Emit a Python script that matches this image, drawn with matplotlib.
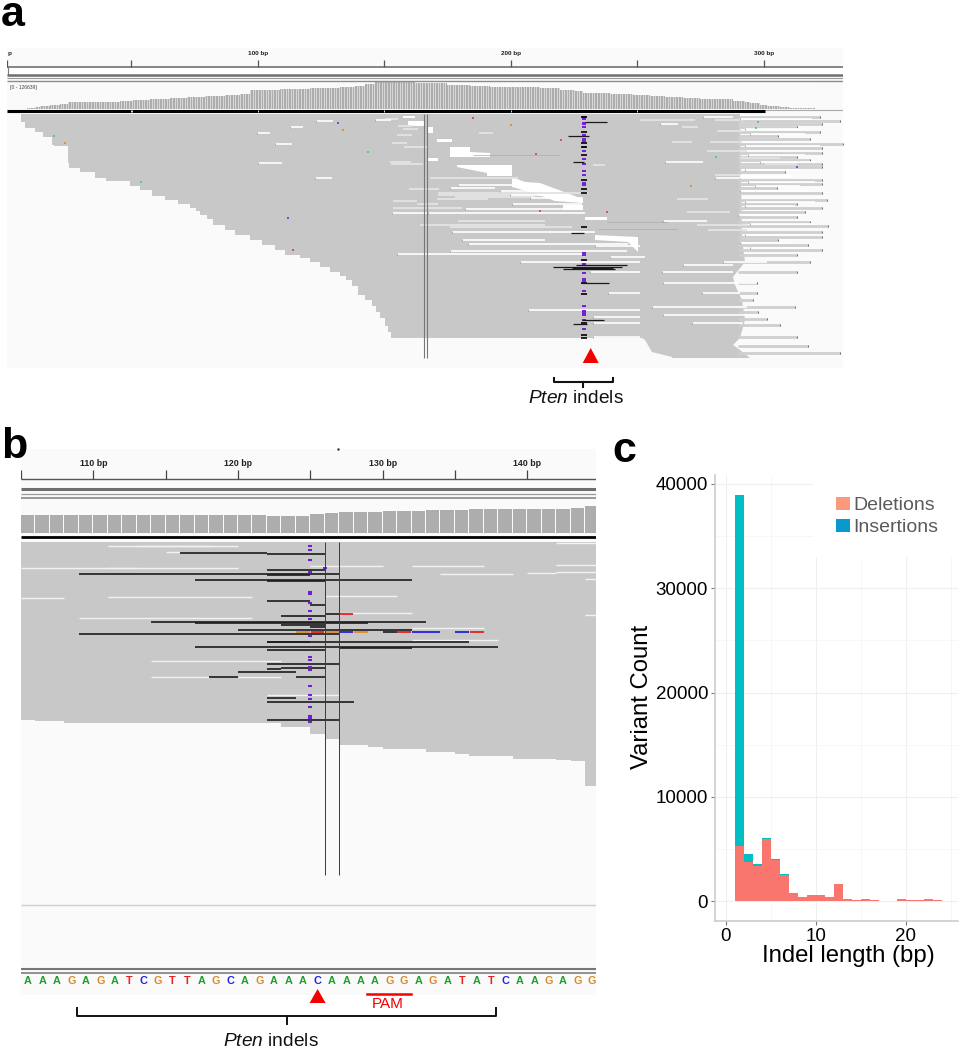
import numpy as np
import matplotlib
matplotlib.use("Agg")
import matplotlib.pyplot as plt
from matplotlib.patches import Patch, Polygon, Rectangle

plt.rcParams['font.family'] = ['Liberation Sans', 'DejaVu Sans']
plt.rcParams['mathtext.fontset'] = 'custom'
plt.rcParams['mathtext.rm'] = 'Liberation Sans'
plt.rcParams['mathtext.it'] = 'Liberation Sans:italic'

W, H = 973, 1050
READ = '#c8c8c8'; PANEL = '#fafafa'; COV = '#adadad'; LINE = '#7c7c7c'
PURPLE = '#6f1fd6'
BASE_COL = {'A': '#1f9e2d', 'C': '#2222e0', 'G': '#d98a2e', 'T': '#e32222'}

# ---------- panel a data (read columns along the track, rows down the track) ----------
a_ruler_cols = [131, 258, 384, 511, 637, 764]
a_ruler_labels = {258: '100 bp', 511: '200 bp', 764: '300 bp'}
a_cov_cols = [27, 35, 40, 50, 60, 68, 100, 120, 133, 150, 170, 187, 205, 225, 240, 250, 280, 310, 340, 355,
              365, 375, 415, 447, 470, 490, 517, 540, 560, 575, 583, 610, 633, 650, 665, 683, 700, 733,
              745, 750, 760, 767, 780, 790, 805, 815]
a_cov_heights = [1, 2, 3, 4, 5, 7, 7.5, 8, 9, 10, 11, 12, 13, 14, 15, 19, 20, 21, 22, 23,
                 25, 27, 26, 24, 23, 22.5, 22, 21, 19, 18, 16, 15, 14, 13, 12, 11, 10, 8,
                 7, 5.7, 4, 3, 2, 1.5, 1]
a_left_y = [114, 122, 128, 132, 137, 145, 146, 163, 168, 172, 178, 181, 186, 190, 196, 200, 204, 208, 211, 215, 219,
            225, 230, 235, 240, 245, 250, 255, 258, 262, 267, 272, 276, 280, 286, 295, 300, 306, 312, 318, 326, 332, 338]
a_left_x = [21, 25, 35, 43, 52, 54, 68, 69, 80, 95, 106, 130, 140, 152, 165, 178, 190, 196, 200, 207, 213,
            225, 235, 250, 262, 275, 285, 300, 310, 320, 330, 340, 346, 352, 358, 365, 372, 376, 380, 385, 388, 391, 393]
a_block = [(393, 114), (740, 114), (742, 240), (745, 262), (733, 277), (735, 285), (742, 300), (745, 320), (740, 338),
           (733, 345), (740, 350), (750, 358), (672, 358), (672, 357), (652, 352), (645, 340), (642, 338), (393, 338)]
a_white_blocks = [
    [(403, 116), (415, 116), (415, 118), (403, 118)],
    [(408, 121), (425, 121), (425, 126), (408, 126)],
    [(427, 127), (433, 127), (433, 133), (427, 133)],
    [(437, 139), (452, 139), (452, 142), (437, 142)],
    [(450, 147), (470, 147), (470, 157), (450, 157)],
    [(470, 152), (490, 153), (490, 157), (470, 157)],
    [(428, 158), (438, 158), (438, 161), (428, 161)],
    [(457, 165), (512, 165), (512, 176), (487, 176), (487, 173), (472, 170), (457, 167)],
    [(512, 177), (525, 182), (540, 183), (583, 199), (583, 203), (555, 201), (530, 192), (512, 187)],
    [(563, 205), (583, 205), (583, 210), (563, 210)],
    [(585, 217), (607, 217), (607, 220), (585, 220)],
    [(595, 235), (638, 237), (638, 252), (628, 242), (595, 240)],
    [(740, 175), (793, 175), (793, 178), (740, 178)],
]
a_row_y = [117, 121, 124, 127, 132, 136, 139, 144, 148, 153, 157, 160, 164, 167, 172, 180, 184, 188, 193, 200,
           204, 208, 212, 217, 222, 226, 232, 237, 240, 245, 250, 255, 262, 272, 283, 293, 300, 307, 312, 319,
           325, 337, 346, 353]
a_row_end = [820, 840, 822, 797, 820, 778, 810, 843, 822, 822, 797, 810, 822, 822, 785, 822, 822, 777, 822, 827,
             797, 822, 805, 797, 810, 828, 822, 822, 778, 808, 822, 797, 810, 797, 757, 757, 753, 795, 758, 767,
             780, 797, 808, 840]
a_gaps = [(316, 333, 121), (375, 391, 120), (290, 303, 127), (257, 270, 133), (275, 292, 144), (258, 282, 163),
          (315, 332, 178),
          (392, 428, 213), (428, 585, 213), (465, 582, 209), (512, 582, 204), (458, 518, 185), (450, 495, 188),
          (500, 560, 191), (510, 570, 195), (530, 583, 198),
          (452, 595, 232), (462, 545, 240), (468, 628, 244), (450, 627, 251), (397, 585, 254), (520, 640, 262),
          (595, 640, 246), (610, 645, 257),
          (590, 640, 272), (608, 640, 293), (528, 640, 310), (593, 640, 317), (593, 640, 323), (593, 640, 337),
          (662, 733, 272), (663, 757, 283), (702, 740, 293), (652, 747, 307), (663, 758, 315), (692, 743, 323),
          (683, 733, 265), (723, 767, 262), (660, 678, 124), (665, 703, 162), (715, 740, 178), (663, 707, 221),
          (703, 733, 117), (740, 812, 119), (745, 800, 129), (750, 805, 134), (745, 820, 146), (748, 805, 155),
          (760, 815, 162), (745, 800, 170), (748, 815, 182), (755, 800, 186), (740, 810, 191), (745, 815, 202),
          (745, 795, 206), (738, 800, 215), (750, 812, 224), (745, 800, 235), (740, 790, 243), (750, 805, 248)]
a_pale = [(385, 398, 119), (398, 412, 126), (403, 418, 129), (397, 412, 135), (392, 407, 143), (404, 428, 147),
          (390, 411, 162), (391, 423, 164), (409, 439, 189), (417, 438, 204), (438, 588, 193), (438, 532, 195),
          (455, 535, 197), (437, 488, 199), (393, 417, 201), (393, 462, 208), (430, 518, 178), (458, 545, 221),
          (420, 545, 225), (450, 572, 227), (479, 493, 133), (593, 605, 165), (682, 698, 127), (717, 742, 131),
          (672, 692, 142), (710, 742, 142), (707, 747, 151), (715, 740, 175), (677, 708, 199), (687, 730, 212),
          (697, 747, 225), (708, 747, 230), (640, 695, 120), (715, 743, 120), (740, 780, 158), (765, 797, 164)]
a_spots = [(338, 123, '#3a3ae0'), (343, 130, '#d9822b'), (54, 136, '#3ad04a'), (65, 143, '#d9822b'), (368, 152, '#3ad04a'),
           (141, 182, '#3ad04a'), (288, 218, '#3a3ae0'), (293, 250, '#e03030'), (473, 118, '#e03030'), (511, 125, '#d9822b'),
           (561, 140, '#e03030'), (536, 154, '#e03030'), (716, 157, '#3ad04a'), (691, 186, '#d9822b'), (540, 211, '#e03030'),
           (607, 212, '#e03030'), (758, 122, '#3ad04a'), (756, 128, '#3ad04a'), (797, 167, '#3a3ae0')]
a_purple_y = [117, 119, 123, 124, 127, 135, 139, 141, 147, 151, 159, 164, 171, 175, 183, 185,
              253, 255, 264, 273, 279, 281, 291, 306, 311, 313, 315, 320, 329]
a_black_y = [117, 132, 143, 147, 155, 180, 189, 193, 227, 260, 283, 294, 323, 335, 338]
a_black_long = [(585, 607, 122), (568, 589, 136), (573, 584, 162), (571, 584, 233), (576, 627, 265), (553, 622, 267),
                (572, 613, 268), (563, 615, 269), (582, 609, 283), (582, 604, 320), (573, 587, 324)]
a_thin_reads = [(473, 560, 155), (607, 667, 222), (598, 677, 229)]
a_double_cols = [424.3, 426.8]

# ---------- panel b data (bp) ----------
b_ruler_bp = [105, 110, 115, 120, 125, 130, 135, 140]
b_label_bp = [110, 120, 130, 140]
b_sequence = "AAAGAGATCGTTAGCAGAAACAAAAGGAGATATCAAGAGG"
b_cov_heights = [17.7] * 17 + [16.7] * 3 + [18.7, 19.7] + [21] * 3 + [22.3] * 3 + [23.3] * 3 + [24] * 7 + [24.7, 27.3]
b_bottom_bp = [105, 106, 108, 123, 125, 126, 127, 129, 130, 133, 135, 136, 139, 142, 143, 144, 144.75]
b_bottom_y = [720, 721, 723, 727, 734, 739, 745, 747, 749, 752, 754, 756, 759, 760, 761, 786, 786]
b_black = [(116, 122, 553), (122, 126, 553.5), (122, 126, 570), (109, 127, 574), (122, 125, 575), (117, 132, 580), (122, 126, 581),
           (122, 125, 601), (125, 126, 605), (123, 126, 615.5), (126, 127, 614), (114, 133, 621.5), (117, 129, 622.5),
           (123, 126, 625), (125, 126, 627), (120, 132, 630), (109, 127, 634), (130, 131, 632), (122, 125, 641.5),
           (122, 136, 642), (117, 138, 647), (127, 132, 648), (122, 126, 650), (122, 127, 664), (123, 126, 668),
           (122, 123, 669), (120, 124, 672), (118, 120, 677), (124, 126, 677), (122, 124, 698), (122, 128, 702), (122, 127, 720)]
b_white = [(111, 120, 546), (113, 118, 546), (115, 116, 552), (105, 120, 567.5), (111, 113, 567.5), (125, 130, 566), (132, 137, 566),
           (134, 139, 574), (140, 142, 573), (142, 145, 565), (142, 145, 572), (144, 145, 579), (105, 108, 598), (111, 121, 597),
           (126, 131, 596), (109, 121, 618), (127, 132, 613), (144, 145, 615), (132, 137, 628), (132, 138, 640), (114, 123, 661),
           (114, 118, 677), (120, 123, 677), (122, 127, 695), (142, 145, 542.5)]
b_mismatch = [(124, 125, 632, 'G'), (125, 126, 632, 'T'), (126, 127, 632, 'G'), (127, 128, 632, 'C'), (128, 129, 632, 'G'),
              (131, 132, 632, 'T'), (132, 133, 632, 'C'), (133, 134, 632, 'C'), (135, 136, 632, 'C'), (136, 137, 632, 'T'),
              (127, 128, 614, 'T')]
b_purple_y = [546, 550, 560, 572, 592, 594, 603, 611, 619, 636, 657, 660, 667, 670, 686, 695, 699, 707, 716, 718, 722]
b_double_bp = [126, 127]

# ---------- panel c data ----------
c_bin_start = list(range(1, 26))
c_deletions = [5300, 3780, 3380, 5900, 3980, 2450, 730, 360, 530, 600, 430, 1660, 200, 60, 200, 100, 30, 10, 230, 100, 100, 200, 60, 20, 20]
c_insertions = [33640, 760, 130, 160, 60, 100, 0, 0, 70, 0, 0, 0, 0, 40, 0, 0, 0, 30, 0, 0, 0, 0, 40, 10, 0]
c_yticks = [0, 10000, 20000, 30000, 40000]
c_xticks = [0, 10, 20]

fig = plt.figure(figsize=(W / 100, H / 100), dpi=100, facecolor='white')


def axes_px(x0, y0, x1, y1):
    return fig.add_axes([x0 / W, 1 - y1 / H, (x1 - x0) / W, (y1 - y0) / H])


def bare(ax):
    for s in ax.spines.values():
        s.set_visible(False)
    ax.set_xticks([]); ax.set_yticks([])
    ax.set_facecolor(PANEL)


# ================= panel a =================
def bp_a(col):
    return 100 + (np.asarray(col, dtype=float) - 258) / 2.53


axa = axes_px(7, 48, 843, 368)
bare(axa)
axa.set_xlim(bp_a(7), bp_a(843))
axa.set_ylim(368, 48)
axa.hlines(66.7, bp_a(7), bp_a(843), color=LINE, lw=1.3)
axa.vlines(bp_a(a_ruler_cols), 60, 66.7, color='#555555', lw=0.9)
axa.vlines(bp_a(7), 60, 66.7, color='#555555', lw=0.9)
for c, t in a_ruler_labels.items():
    axa.text(bp_a(c), 54, t, ha='center', va='center', fontsize=4.6, fontweight='bold', color='#222222')
axa.text(bp_a(8), 54, 'p', ha='left', va='center', fontsize=4.6, fontweight='bold', color='#222222')
axa.add_patch(Rectangle((bp_a(7), 67), bp_a(843) - bp_a(7), 8, fc='white', ec='none'))
axa.vlines(bp_a(7.6), 67, 75, color=LINE, lw=0.8)
axa.hlines(75, bp_a(7), bp_a(843), color='#6e6e6e', lw=1.8)
axa.hlines(78, bp_a(7), bp_a(843), color='#999999', lw=0.8)
axa.hlines(81, bp_a(7), bp_a(843), color='#8c8c8c', lw=1.0)
axa.text(bp_a(10), 87, '[0 - 126639]', ha='left', va='center', fontsize=3.6, color='#444444')
edges = bp_a(a_cov_cols)
axa.stairs(109 - np.array(a_cov_heights), edges, baseline=109, fill=True, color=COV, lw=0)
axa.vlines(np.arange(np.ceil(edges[0]), edges[-1]), 82, 109, color=PANEL, lw=0.5, alpha=0.8)
axa.hlines(110, bp_a(765), bp_a(843), color='#aaaaaa', lw=0.8)
axa.hlines(111, bp_a(7), bp_a(765), color='black', lw=2.2)
axa.vlines(bp_a(a_ruler_cols[:5] + [132]), 109.8, 112.2, color='#dddddd', lw=0.7)
# rows of reads that run out beyond the solid block
axa.hlines(a_row_y, bp_a(738), bp_a(a_row_end), color='#cfcfcf', lw=2.0)
axa.plot(bp_a(a_row_end), a_row_y, ls='none', marker='|', ms=2, mew=0.6, color='#555555')
axa.add_patch(Polygon(np.c_[bp_a([p[0] for p in a_block]), [p[1] for p in a_block]], fc=READ, ec='none'))
axa.fill_betweenx(a_left_y, bp_a(a_left_x), bp_a(400), step='post', color=READ, lw=0)
for poly in a_white_blocks:
    axa.add_patch(Polygon(np.c_[bp_a([p[0] for p in poly]), [p[1] for p in poly]], fc='white', ec='none'))
for x1, x2, y in a_pale:
    axa.hlines(y, bp_a(x1), bp_a(x2), color='#e3e3e3', lw=1.3)
for x1, x2, y in a_gaps:
    axa.hlines(y, bp_a(x1), bp_a(x2), color='white', lw=1.25, alpha=0.95)
    axa.plot(bp_a(x1), y, ls='none', marker='|', ms=1.6, mew=0.4, color='#777777')
for x1, x2, y in a_thin_reads:
    axa.hlines(y, bp_a(x1), bp_a(x2), color='#aaaaaa', lw=0.5)
axa.vlines(bp_a(a_double_cols), 114, 358, color='#777777', lw=0.8)
for x, y, c in a_spots:
    axa.hlines(y, bp_a(x - 1.3), bp_a(x + 1.3), color=c, lw=1.1)
axa.hlines(a_purple_y, bp_a(582), bp_a(586), color=PURPLE, lw=1.4)
axa.hlines(a_black_y, bp_a(581), bp_a(587), color='black', lw=1.2)
for x1, x2, y in a_black_long:
    axa.hlines(y, bp_a(x1), bp_a(x2), color='#1a1a1a', lw=0.9)

# ================= panel b =================
axb = axes_px(21, 449, 596, 995)
bare(axb)
axb.set_xlim(105, 144.75)
axb.set_ylim(995, 449)
axb.hlines(479, 105, 144.75, color='#555555', lw=1.0)
axb.vlines(b_ruler_bp, 470, 479, color='#444444', lw=0.9)
for b in b_label_bp:
    axb.text(b, 463, f'{b} bp', ha='center', va='center', fontsize=6.4, fontweight='bold', color='#222222')
axb.hlines(489, 105, 144.75, color='#6e6e6e', lw=2.2)
axb.hlines(494, 105, 144.75, color='#999999', lw=0.9)
axb.hlines(498, 105, 144.75, color='#888888', lw=1.2)
axb.bar(np.arange(105, 145), -np.array(b_cov_heights), bottom=533, width=0.93, align='edge', color=COV, lw=0)
axb.hlines(536.5, 105, 144.75, color='black', lw=2.0)
axb.fill_between(b_bottom_bp, 542, b_bottom_y, step='post', color=READ, lw=0)
axb.hlines(905, 105, 144.75, color='#cfcfcf', lw=1.0)
for x1, x2, y in b_white:
    axb.hlines(y, x1, x2, color='#f2f2f2', lw=1.0)
for x1, x2, y in b_black:
    axb.hlines(y, x1, x2, color='#1c1c1c', lw=1.2)
for x1, x2, y, base in b_mismatch:
    axb.hlines(y, x1 + .02, x2 - .02, color=BASE_COL[base], lw=1.3)
axb.hlines(b_purple_y, 124.85, 125.15, color=PURPLE, lw=1.5)
axb.hlines(567.5, 125.9, 126.15, color=PURPLE, lw=1.5)
axb.vlines(b_double_bp, 542, 875, color='#3a3a3a', lw=0.7)
axb.hlines(969, 105, 144.75, color='#777777', lw=1.5)
axb.hlines(973, 105, 144.75, color='#888888', lw=1.3)
for i, ch in enumerate(b_sequence):
    axb.text(105 + i + .48, 980.5, ch, ha='center', va='center', fontsize=7.8, fontweight='bold', color=BASE_COL[ch])
axb.plot([126.9], [449], marker='.', ms=1.5, color='#333333', clip_on=False)

# ================= panel c =================
axc = axes_px(715, 475, 958, 921)
axc.set_xlim(-1.22, 25.78)
axc.set_ylim(-1918, 40863)
axc.set_axisbelow(True)
axc.grid(True, which='major', color='#efefef', lw=0.8)
axc.set_yticks([5000, 15000, 25000, 35000], minor=True)
axc.set_xticks([5, 15, 25], minor=True)
axc.grid(True, which='minor', color='#f6f6f6', lw=0.6)
axc.tick_params(which='minor', length=0)
axc.add_patch(Rectangle((0.403, 0.816), 0.6, 0.2, transform=axc.transAxes, fc='white', ec='none', zorder=1))
axc.bar(c_bin_start, c_deletions, width=1, align='edge', color='#F8766D', lw=0, zorder=2)
axc.bar(c_bin_start, c_insertions, bottom=c_deletions, width=1, align='edge', color='#00BFC4', lw=0, zorder=2)
for s in ('top', 'right'):
    axc.spines[s].set_visible(False)
for s in ('left', 'bottom'):
    axc.spines[s].set_color('#cccccc'); axc.spines[s].set_linewidth(1.2)
axc.set_xticks(c_xticks); axc.set_yticks(c_yticks)
axc.tick_params(axis='both', which='major', labelsize=13.5, color='#777777', length=3, width=0.8, pad=2)
axc.set_xlabel('Indel length (bp)', fontsize=17.2)
axc.set_ylabel('Variant Count', fontsize=17.2)
axc.xaxis.set_label_coords((848 - 715) / 243, (921 - 956) / 446, transform=axc.transAxes)
axc.xaxis.label.set_va('center')
axc.yaxis.set_label_coords((642 - 715) / 243, (921 - 697) / 446, transform=axc.transAxes)
axc.yaxis.label.set_va('center')
leg = axc.legend(handles=[Patch(fc='#f99a7f', label='Deletions'), Patch(fc='#0a99cd', label='Insertions')],
                 loc='upper left', bbox_to_anchor=((836 - 715) / 243, (921 - 497) / 446), frameon=False, fontsize=14,
                 handlelength=0.72, handleheight=0.66, handletextpad=0.15, labelspacing=0.22, borderaxespad=0, borderpad=0,
                 labelcolor='#5a5a5a')

# ================= annotations across the figure =================
ov = fig.add_axes([0, 0, 1, 1], facecolor='none')
ov.set_xlim(0, W); ov.set_ylim(H, 0); ov.axis('off')
for t, x, y in (('a', 1, 26), ('b', 1, 458), ('c', 612, 462)):
    ov.text(x, y, t, fontsize=31, fontweight='bold', ha='left', va='baseline', color='black')
ov.fill([582.7, 598.7, 590.7], [363, 363, 348], color='#f40000', lw=0)
ov.plot([554, 554, 612.7, 612.7], [378, 382, 382, 378], color='#111111', lw=1.5)
ov.plot([583, 583], [382, 387], color='#111111', lw=1.5)
ov.text(576, 398.5, r'$\it{Pten}$ indels', fontsize=13.8, ha='center', va='center', color='#111111')
ov.fill([309.6, 325.6, 317.6], [1003, 1003, 989], color='#f40000', lw=0)
ov.plot([367, 411], [993.5, 993.5], color='#f40000', lw=1.8)
ov.text(388, 1004.5, 'PAM', fontsize=11, ha='center', va='center', color='#f40000')
ov.plot([77, 77, 496, 496], [1008, 1016, 1016, 1008], color='#111111', lw=1.4)
ov.plot([287, 287], [1016, 1024], color='#111111', lw=1.4)
ov.text(271, 1042, r'$\it{Pten}$ indels', fontsize=13.8, ha='center', va='center', color='#111111')

fig.savefig('out.png', dpi=100)
